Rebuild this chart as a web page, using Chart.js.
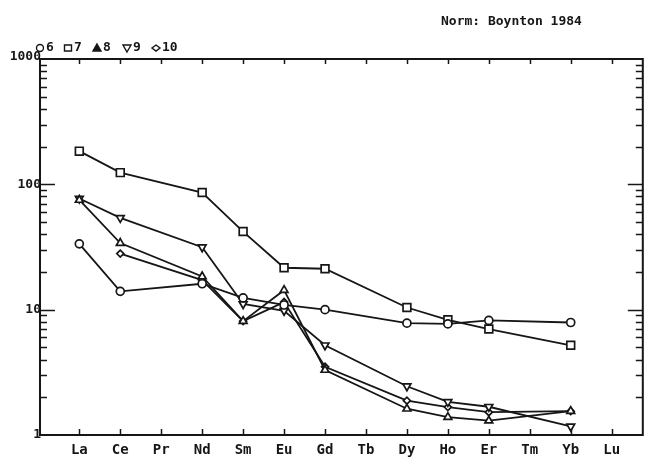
<!DOCTYPE html>
<html>
<head>
<meta charset="utf-8">
<script src="https://cdn.jsdelivr.net/npm/chart.js@4.4.1/dist/chart.umd.min.js"></script>
<style>
  html, body { margin: 0; padding: 0; background: #fff; }
  canvas { display: block; }
</style>
</head>
<body>
<canvas id="ree" width="650" height="462"></canvas>
<script>
// REE labels along the x axis
const elements = ['La', 'Ce', 'Pr', 'Nd', 'Sm', 'Eu', 'Gd', 'Tb', 'Dy', 'Ho', 'Er', 'Tm', 'Yb', 'Lu'];
const yTicks = [1, 10, 100, 1000];

// chondrite-normalised values per sample (null = not analysed)
const sample6  = [33.5, 14.0, null, 16.1, 12.4, 10.9, 10.0, null, 7.8, 7.7, 8.2, null, 7.9, null];
const sample7  = [184, 124, null, 86, 42, 21.6, 21.2, null, 10.4, 8.3, 7.0, null, 5.2, null];
const sample8  = [75, 34, null, 18.4, 8.1, 14.3, 3.3, null, 1.62, 1.39, 1.30, null, 1.55, null];
const sample9  = [77, 54, null, 31.5, 11.1, 9.8, 5.2, null, 2.45, 1.84, 1.68, null, 1.17, null];
const sample10 = [null, 28, null, 17.2, 8.1, 11.5, 3.5, null, 1.88, 1.67, 1.52, null, 1.55, null];

const INK = '#161616';
const FONT = 'bold 13px "DejaVu Sans Mono", monospace';
const LABEL_FONT = 'bold 14px "DejaVu Sans Mono", monospace';

function points(values) {
  return values.map((v, i) => ({ x: i, y: v })).filter(p => p.y !== null);
}

function series(label, values, style, radius, rotation) {
  return {
    label,
    data: points(values),
    borderColor: INK,
    borderWidth: 1.8,
    pointStyle: style,
    pointRadius: radius,
    pointRotation: rotation || 0,
    pointBorderWidth: 1.7,
    pointBorderColor: INK,
    pointBackgroundColor: '#fff',
    tension: 0
  };
}

// marker shapes for the legend row
function marker(ctx, kind, x, y) {
  ctx.beginPath();
  if (kind === 'circle') {
    ctx.arc(x, y, 3.5, 0, Math.PI * 2);
  } else if (kind === 'square') {
    ctx.rect(x - 3.5, y - 3, 7, 6);
  } else if (kind === 'up') {
    ctx.moveTo(x, y - 4); ctx.lineTo(x + 4, y + 3); ctx.lineTo(x - 4, y + 3); ctx.closePath();
  } else if (kind === 'down') {
    ctx.moveTo(x, y + 4); ctx.lineTo(x + 4, y - 3); ctx.lineTo(x - 4, y - 3); ctx.closePath();
  } else {
    ctx.moveTo(x, y - 3); ctx.lineTo(x + 4, y); ctx.lineTo(x, y + 3); ctx.lineTo(x - 4, y); ctx.closePath();
  }
  ctx.fillStyle = kind === 'up' ? INK : '#fff';
  ctx.fill();
  ctx.stroke();
}

const plotFrame = {
  id: 'plotFrame',
  afterDatasetsDraw(chart) {
    const { ctx, chartArea: a, scales: { x, y } } = chart;
    ctx.save();
    ctx.strokeStyle = INK;
    ctx.lineWidth = 2;
    ctx.strokeRect(a.left, a.top, a.right - a.left, a.bottom - a.top);

    // log ticks on both sides, pointing inward
    ctx.lineWidth = 1.5;
    for (let d = 1; d < 1000; d *= 10) {
      for (let m = 1; m < 10; m++) {
        const v = d * m;
        if (v === 1) continue;
        const py = Math.round(y.getPixelForValue(v)) + 0.5;
        const len = m === 1 ? 15 : 7;
        ctx.beginPath();
        ctx.moveTo(a.left, py); ctx.lineTo(a.left + len, py);
        ctx.moveTo(a.right, py); ctx.lineTo(a.right - len, py);
        ctx.stroke();
      }
    }

    // element ticks top and bottom
    elements.forEach((el, i) => {
      const px = Math.round(x.getPixelForValue(i)) + 0.5;
      ctx.beginPath();
      ctx.moveTo(px, a.bottom); ctx.lineTo(px, a.bottom - 6);
      ctx.moveTo(px, a.top); ctx.lineTo(px, a.top + 5);
      ctx.stroke();
    });

    ctx.fillStyle = INK;
    ctx.font = LABEL_FONT;
    ctx.textAlign = 'center';
    ctx.textBaseline = 'middle';
    elements.forEach((el, i) => ctx.fillText(el, x.getPixelForValue(i), a.bottom + 15));

    ctx.font = FONT;
    ctx.textAlign = 'right';
    yTicks.forEach(v => {
      const py = y.getPixelForValue(v);
      ctx.fillText(String(v), a.left + 1, v === 1000 ? py - 2 : py);
    });

    ctx.textAlign = 'left';
    ctx.fillText('Norm: Boynton 1984', 441, 22);

    // legend row above the frame
    const legend = [['circle', '6', 40], ['square', '7', 68], ['up', '8', 97], ['down', '9', 127], ['diamond', '10', 156]];
    ctx.lineWidth = 1.4;
    legend.forEach(([kind, text, lx]) => {
      marker(ctx, kind, lx, 48);
      ctx.fillStyle = INK;
      ctx.fillText(text, lx + 6, 48);
    });
    ctx.restore();
  }
};

new Chart(document.getElementById('ree'), {
  type: 'line',
  data: {
    datasets: [
      series('6', sample6, 'circle', 4),
      series('7', sample7, 'rect', 5.5),
      series('8', sample8, 'triangle', 4.5),
      series('9', sample9, 'triangle', 4.5, 180),
      series('10', sample10, 'rectRot', 3.5)
    ]
  },
  options: {
    responsive: false,
    animation: false,
    layout: { padding: { left: 40, right: 6, top: 59, bottom: 27 } },
    plugins: { legend: { display: false }, tooltip: { enabled: false } },
    scales: {
      x: { type: 'linear', min: -0.96, max: 13.76, display: false },
      y: { type: 'logarithmic', min: 1, max: 1000, display: false }
    }
  },
  plugins: [plotFrame]
});
</script>
</body>
</html>
